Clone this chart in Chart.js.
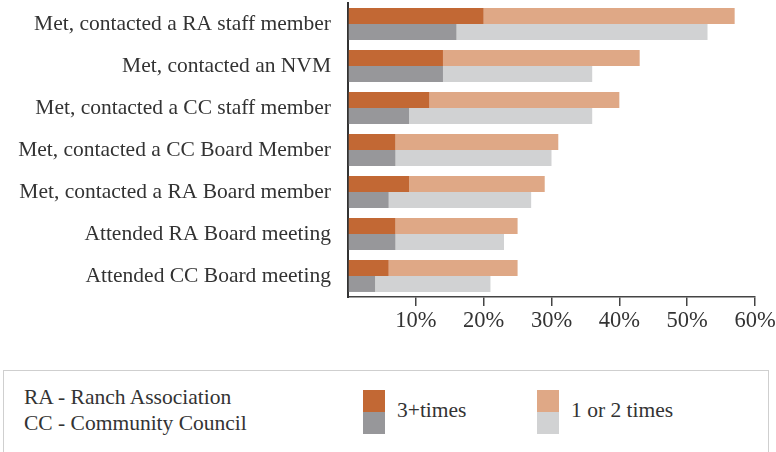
<!DOCTYPE html>
<html>
<head>
<meta charset="utf-8">
<script src="https://cdn.jsdelivr.net/npm/chart.js@4.4.1/dist/chart.umd.min.js"></script>
<style>
  body { margin: 0; background: #fff; font-family: "Liberation Serif", serif; color: #333; }
  #wrap { position: relative; width: 776px; height: 452px; overflow: hidden; }
  #chartBox { position: absolute; left: 0; top: 0; width: 776px; height: 336px; }
  #legend { position: absolute; left: 3px; top: 370px; width: 766px; height: 110px; border: 1px solid #cfcfcf; box-sizing: border-box; }
  .note { position: absolute; left: 20px; font-size: 21.5px; line-height: 25px; }
  .sw { position: absolute; width: 22px; height: 22px; }
  .lbl { position: absolute; font-size: 21.5px; line-height: 25px; }
</style>
</head>
<body>
<div id="wrap">
  <div id="chartBox"><canvas id="myChart"></canvas></div>
  <div id="legend">
    <div class="note" style="top:14px">RA - Ranch Association</div>
    <div class="note" style="top:40px">CC - Community Council</div>
    <div class="sw" style="left:359px; top:19px; background:#c26834"></div>
    <div class="sw" style="left:359px; top:41px; background:#97979a"></div>
    <div class="lbl" style="left:393px; top:27px">3+times</div>
    <div class="sw" style="left:533px; top:19px; background:#dfa886"></div>
    <div class="sw" style="left:533px; top:41px; background:#d1d2d3"></div>
    <div class="lbl" style="left:567px; top:27px">1 or 2 times</div>
  </div>
</div>
<script>
// du lieu doc tu hinh (%)
const categories = [
  'Met, contacted a RA staff member',
  'Met, contacted an NVM',
  'Met, contacted a CC staff member',
  'Met, contacted a CC Board Member',
  'Met, contacted a RA Board member',
  'Attended RA Board meeting',
  'Attended CC Board meeting'
];
const orange3plus = [20, 14, 12, 7, 9, 7, 6];
const orange1or2  = [37, 29, 28, 24, 20, 18, 19];
const gray3plus   = [16, 14, 9, 7, 6, 7, 4];
const gray1or2    = [37, 22, 27, 23, 21, 16, 17];
const tickValues  = [10, 20, 30, 40, 50, 60];

const fontFamily = '"Liberation Serif", serif';

const ctx = document.getElementById('myChart');
new Chart(ctx, {
  type: 'bar',
  data: {
    labels: categories,
    datasets: [
      { label: '3+times', data: orange3plus, backgroundColor: '#c26834', stack: 'a' },
      { label: '1 or 2 times', data: orange1or2, backgroundColor: '#dfa886', stack: 'a' },
      { label: '3+times', data: gray3plus, backgroundColor: '#97979a', stack: 'b' },
      { label: '1 or 2 times', data: gray1or2, backgroundColor: '#d1d2d3', stack: 'b' }
    ]
  },
  options: {
    indexAxis: 'y',
    responsive: true,
    maintainAspectRatio: false,
    animation: false,
    layout: { padding: { top: 3, right: 21, left: 0, bottom: 0 } },
    categoryPercentage: 0.76,
    barPercentage: 1.0,
    plugins: {
      legend: { display: false },
      tooltip: { enabled: false }
    },
    scales: {
      x: {
        min: 0,
        max: 60,
        afterBuildTicks: function (axis) {
          axis.ticks = [0].concat(tickValues).map(v => ({ value: v }));
        },
        afterFit: function (axis) {
          axis.height = 39;
          axis.paddingLeft = 0;
          axis.paddingRight = 0;
        },
        grid: {
          drawOnChartArea: false,
          drawTicks: true,
          tickLength: 9,
          color: function (c) { return c.tick && c.tick.value === 0 ? 'rgba(0,0,0,0)' : '#444'; },
          lineWidth: 1.5
        },
        border: { color: '#444', width: 1.5 },
        ticks: {
          color: '#333',
          padding: 2,
          maxRotation: 0,
          font: { family: fontFamily, size: 22.5 },
          callback: function (value) { return value === 0 ? '' : value + '%'; }
        }
      },
      y: {
        afterFit: function (axis) {
          axis.width = 348;
          axis.paddingTop = 0;
          axis.paddingBottom = 0;
        },
        grid: { display: false, drawTicks: false },
        border: { color: '#333', width: 2 },
        ticks: {
          color: '#333',
          padding: 17,
          font: { family: fontFamily, size: 21.5 }
        }
      }
    }
  }
});
</script>
</body>
</html>
